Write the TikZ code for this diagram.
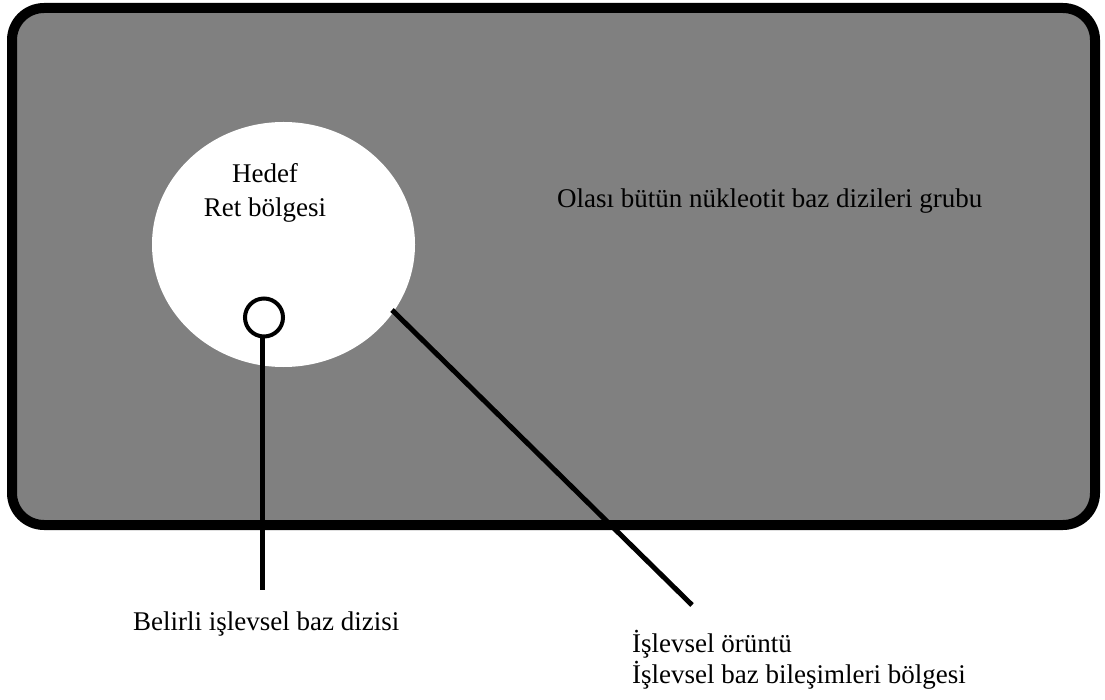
\documentclass[tikz,border=0pt]{standalone}
\usepackage{fontspec}
\setmainfont{Liberation Serif}
\usetikzlibrary{shapes.geometric}
\begin{document}
\begin{tikzpicture}[x=1pt,y=-1pt,
  lbl/.style={font=\fontsize{27}{32}\selectfont, inner sep=0pt, text=black},
  conn/.style={line width=5pt, black}]
\useasboundingbox (0,0) rectangle (1105,700);
\fill[white] (0,0) rectangle (1105,700);
\node[draw=black, line width=10pt, fill={rgb,255:red,128;green,128;blue,128}, rounded corners=32pt,
  minimum width=1083pt, minimum height=517pt, inner sep=0pt] (set) at (553.5,266.5) {};
\node[ellipse, fill=white, minimum width=263pt, minimum height=245pt, inner sep=0pt, draw=none] (target) at (283.5,244.5) {};
\node[circle, draw=black, line width=4pt, fill=white, minimum size=38pt, inner sep=0pt] (spec) at (264,317.5) {};
\coordinate (pat) at (392,310);
\node[lbl, font=\fontsize{27}{34}\selectfont, align=center, anchor=base] (tlbl) at (265,217) {Hedef\\Ret bölgesi};
\node[lbl, anchor=base west] (alllbl) at (557,208) {Olası bütün nükleotit baz dizileri grubu};
\coordinate (e1) at (262,590);
\coordinate (e2) at (692,605);
\draw[conn] (e1 |- spec.south) -- (e1);
\draw[conn] (pat) -- (e2);
\node[lbl, anchor=base west] (b1) at (133,630) {Belirli işlevsel baz dizisi};
\node[lbl, font=\fontsize{27}{31}\selectfont, anchor=base west, align=left] (b2) at (632,683) {İşlevsel örüntü\\İşlevsel baz bileşimleri bölgesi};
\end{tikzpicture}
\end{document}
